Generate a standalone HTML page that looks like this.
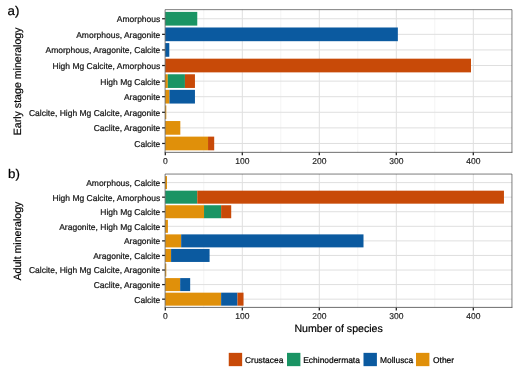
<!DOCTYPE html>
<html lang="en"><head><meta charset="utf-8"><title>Mineralogy chart</title>
<style>html,body{margin:0;padding:0;background:#fff}body{width:520px;height:374px;overflow:hidden}svg{display:block;will-change:transform;text-rendering:geometricPrecision}text{stroke-linejoin:round;font-family:"Liberation Sans",Arial,Helvetica,sans-serif}</style></head><body>
<svg width="520" height="374" viewBox="0 0 520 374">
<rect width="520" height="374" fill="#fff"/>
<g>
<line x1="203.80" x2="203.80" y1="9.65" y2="152.15" stroke="#E9E9E9" stroke-width="0.55"/>
<line x1="280.80" x2="280.80" y1="9.65" y2="152.15" stroke="#E9E9E9" stroke-width="0.55"/>
<line x1="357.80" x2="357.80" y1="9.65" y2="152.15" stroke="#E9E9E9" stroke-width="0.55"/>
<line x1="434.80" x2="434.80" y1="9.65" y2="152.15" stroke="#E9E9E9" stroke-width="0.55"/>
<line x1="242.30" x2="242.30" y1="9.65" y2="152.15" stroke="#DFDFDF" stroke-width="1"/>
<line x1="319.30" x2="319.30" y1="9.65" y2="152.15" stroke="#DFDFDF" stroke-width="1"/>
<line x1="396.30" x2="396.30" y1="9.65" y2="152.15" stroke="#DFDFDF" stroke-width="1"/>
<line x1="473.30" x2="473.30" y1="9.65" y2="152.15" stroke="#DFDFDF" stroke-width="1"/>
<line x1="165.3" x2="511.95" y1="18.75" y2="18.75" stroke="#DFDFDF" stroke-width="1"/>
<line x1="165.3" x2="511.95" y1="34.34" y2="34.34" stroke="#DFDFDF" stroke-width="1"/>
<line x1="165.3" x2="511.95" y1="49.93" y2="49.93" stroke="#DFDFDF" stroke-width="1"/>
<line x1="165.3" x2="511.95" y1="65.52" y2="65.52" stroke="#DFDFDF" stroke-width="1"/>
<line x1="165.3" x2="511.95" y1="81.11" y2="81.11" stroke="#DFDFDF" stroke-width="1"/>
<line x1="165.3" x2="511.95" y1="96.70" y2="96.70" stroke="#DFDFDF" stroke-width="1"/>
<line x1="165.3" x2="511.95" y1="112.29" y2="112.29" stroke="#DFDFDF" stroke-width="1"/>
<line x1="165.3" x2="511.95" y1="127.88" y2="127.88" stroke="#DFDFDF" stroke-width="1"/>
<line x1="165.3" x2="511.95" y1="143.47" y2="143.47" stroke="#DFDFDF" stroke-width="1"/>
<rect x="165.30" y="11.90" width="31.96" height="13.7" fill="#1A9464"/>
<rect x="165.30" y="27.49" width="232.54" height="13.7" fill="#0B5AA0"/>
<rect x="165.30" y="43.08" width="4.00" height="13.7" fill="#0B5AA0"/>
<rect x="165.30" y="58.67" width="305.69" height="13.7" fill="#C84A08"/>
<rect x="165.30" y="74.26" width="2.54" height="13.7" fill="#E0900A"/>
<rect x="167.84" y="74.26" width="17.09" height="13.7" fill="#1A9464"/>
<rect x="184.94" y="74.26" width="10.01" height="13.7" fill="#C84A08"/>
<rect x="165.30" y="89.85" width="4.16" height="13.7" fill="#E0900A"/>
<rect x="169.46" y="89.85" width="25.49" height="13.7" fill="#0B5AA0"/>
<rect x="165.30" y="105.44" width="1.00" height="13.7" fill="#E0900A"/>
<rect x="165.30" y="121.03" width="15.02" height="13.7" fill="#E0900A"/>
<rect x="165.30" y="136.62" width="42.73" height="13.7" fill="#E0900A"/>
<rect x="208.04" y="136.62" width="6.16" height="13.7" fill="#C84A08"/>
<path d="M165.1 152.35 V9.65 H511.95 V152.35" fill="none" stroke="#2e2e2e" stroke-width="1" stroke-opacity="0.62"/>
<line x1="164.6" x2="512.45" y1="152.35" y2="152.35" stroke="#2e2e2e" stroke-width="0.9" stroke-opacity="0.78"/>
<line x1="162.10" x2="164.90" y1="18.75" y2="18.75" stroke="#1c1c1c" stroke-width="1.25"/>
<text x="160.30" y="22.20" font-size="8.5" text-anchor="end" fill="#161616" stroke="#161616" stroke-width="0.22">Amorphous</text>
<line x1="162.10" x2="164.90" y1="34.34" y2="34.34" stroke="#1c1c1c" stroke-width="1.25"/>
<text x="160.30" y="37.79" font-size="8.5" text-anchor="end" fill="#161616" stroke="#161616" stroke-width="0.22">Amorphous, Aragonite</text>
<line x1="162.10" x2="164.90" y1="49.93" y2="49.93" stroke="#1c1c1c" stroke-width="1.25"/>
<text x="160.30" y="53.38" font-size="8.5" text-anchor="end" fill="#161616" stroke="#161616" stroke-width="0.22">Amorphous, Aragonite, Calcite</text>
<line x1="162.10" x2="164.90" y1="65.52" y2="65.52" stroke="#1c1c1c" stroke-width="1.25"/>
<text x="160.30" y="68.97" font-size="8.5" text-anchor="end" fill="#161616" stroke="#161616" stroke-width="0.22">High Mg Calcite, Amorphous</text>
<line x1="162.10" x2="164.90" y1="81.11" y2="81.11" stroke="#1c1c1c" stroke-width="1.25"/>
<text x="160.30" y="84.56" font-size="8.5" text-anchor="end" fill="#161616" stroke="#161616" stroke-width="0.22">High Mg Calcite</text>
<line x1="162.10" x2="164.90" y1="96.70" y2="96.70" stroke="#1c1c1c" stroke-width="1.25"/>
<text x="160.30" y="100.15" font-size="8.5" text-anchor="end" fill="#161616" stroke="#161616" stroke-width="0.22">Aragonite</text>
<line x1="162.10" x2="164.90" y1="112.29" y2="112.29" stroke="#1c1c1c" stroke-width="1.25"/>
<text x="160.30" y="115.74" font-size="8.5" text-anchor="end" fill="#161616" stroke="#161616" stroke-width="0.22">Calcite, High Mg Calcite, Aragonite</text>
<line x1="162.10" x2="164.90" y1="127.88" y2="127.88" stroke="#1c1c1c" stroke-width="1.25"/>
<text x="160.30" y="131.33" font-size="8.5" text-anchor="end" fill="#161616" stroke="#161616" stroke-width="0.22">Caclite, Aragonite</text>
<line x1="162.10" x2="164.90" y1="143.47" y2="143.47" stroke="#1c1c1c" stroke-width="1.25"/>
<text x="160.30" y="146.92" font-size="8.5" text-anchor="end" fill="#161616" stroke="#161616" stroke-width="0.22">Calcite</text>
<line x1="165.30" x2="165.30" y1="152.55" y2="155.35" stroke="#1c1c1c" stroke-width="1.25"/>
<text x="165.35" y="163.90" font-size="8.5" text-anchor="middle" fill="#262626" stroke="#262626" stroke-width="0.18">0</text>
<line x1="242.30" x2="242.30" y1="152.55" y2="155.35" stroke="#1c1c1c" stroke-width="1.25"/>
<text x="242.35" y="163.90" font-size="8.5" text-anchor="middle" fill="#262626" stroke="#262626" stroke-width="0.18">100</text>
<line x1="319.30" x2="319.30" y1="152.55" y2="155.35" stroke="#1c1c1c" stroke-width="1.25"/>
<text x="319.35" y="163.90" font-size="8.5" text-anchor="middle" fill="#262626" stroke="#262626" stroke-width="0.18">200</text>
<line x1="396.30" x2="396.30" y1="152.55" y2="155.35" stroke="#1c1c1c" stroke-width="1.25"/>
<text x="396.35" y="163.90" font-size="8.5" text-anchor="middle" fill="#262626" stroke="#262626" stroke-width="0.18">300</text>
<line x1="473.30" x2="473.30" y1="152.55" y2="155.35" stroke="#1c1c1c" stroke-width="1.25"/>
<text x="473.35" y="163.90" font-size="8.5" text-anchor="middle" fill="#262626" stroke="#262626" stroke-width="0.18">400</text>
<text transform="translate(21.4,81.35) rotate(-90)" font-size="10.6" text-anchor="middle" fill="#000" stroke="#000" stroke-width="0.2">Early stage mineralogy</text>
<text transform="translate(7.55,14.6) scale(1.06,1)" font-size="12.6" fill="#000" stroke="#000" stroke-width="0.2">a)</text>
</g>
<g>
<line x1="203.80" x2="203.80" y1="174.05" y2="307.3" stroke="#E9E9E9" stroke-width="0.55"/>
<line x1="280.80" x2="280.80" y1="174.05" y2="307.3" stroke="#E9E9E9" stroke-width="0.55"/>
<line x1="357.80" x2="357.80" y1="174.05" y2="307.3" stroke="#E9E9E9" stroke-width="0.55"/>
<line x1="434.80" x2="434.80" y1="174.05" y2="307.3" stroke="#E9E9E9" stroke-width="0.55"/>
<line x1="242.30" x2="242.30" y1="174.05" y2="307.3" stroke="#DFDFDF" stroke-width="1"/>
<line x1="319.30" x2="319.30" y1="174.05" y2="307.3" stroke="#DFDFDF" stroke-width="1"/>
<line x1="396.30" x2="396.30" y1="174.05" y2="307.3" stroke="#DFDFDF" stroke-width="1"/>
<line x1="473.30" x2="473.30" y1="174.05" y2="307.3" stroke="#DFDFDF" stroke-width="1"/>
<line x1="165.3" x2="511.95" y1="182.60" y2="182.60" stroke="#DFDFDF" stroke-width="1"/>
<line x1="165.3" x2="511.95" y1="197.17" y2="197.17" stroke="#DFDFDF" stroke-width="1"/>
<line x1="165.3" x2="511.95" y1="211.74" y2="211.74" stroke="#DFDFDF" stroke-width="1"/>
<line x1="165.3" x2="511.95" y1="226.31" y2="226.31" stroke="#DFDFDF" stroke-width="1"/>
<line x1="165.3" x2="511.95" y1="240.88" y2="240.88" stroke="#DFDFDF" stroke-width="1"/>
<line x1="165.3" x2="511.95" y1="255.45" y2="255.45" stroke="#DFDFDF" stroke-width="1"/>
<line x1="165.3" x2="511.95" y1="270.02" y2="270.02" stroke="#DFDFDF" stroke-width="1"/>
<line x1="165.3" x2="511.95" y1="284.59" y2="284.59" stroke="#DFDFDF" stroke-width="1"/>
<line x1="165.3" x2="511.95" y1="299.16" y2="299.16" stroke="#DFDFDF" stroke-width="1"/>
<rect x="165.30" y="176.10" width="1.69" height="13.0" fill="#E0900A"/>
<rect x="165.30" y="190.67" width="31.96" height="13.0" fill="#1A9464"/>
<rect x="197.26" y="190.67" width="306.69" height="13.0" fill="#C84A08"/>
<rect x="165.30" y="205.24" width="38.73" height="13.0" fill="#E0900A"/>
<rect x="204.03" y="205.24" width="17.09" height="13.0" fill="#1A9464"/>
<rect x="221.12" y="205.24" width="10.09" height="13.0" fill="#C84A08"/>
<rect x="165.30" y="219.81" width="2.62" height="13.0" fill="#E0900A"/>
<rect x="165.30" y="234.38" width="15.86" height="13.0" fill="#E0900A"/>
<rect x="181.16" y="234.38" width="182.34" height="13.0" fill="#0B5AA0"/>
<rect x="165.30" y="248.95" width="5.78" height="13.0" fill="#E0900A"/>
<rect x="171.08" y="248.95" width="38.50" height="13.0" fill="#0B5AA0"/>
<rect x="165.30" y="263.52" width="1.00" height="13.0" fill="#E0900A"/>
<rect x="165.30" y="278.09" width="14.86" height="13.0" fill="#E0900A"/>
<rect x="180.16" y="278.09" width="10.01" height="13.0" fill="#0B5AA0"/>
<rect x="165.30" y="292.66" width="55.83" height="13.0" fill="#E0900A"/>
<rect x="221.12" y="292.66" width="16.32" height="13.0" fill="#0B5AA0"/>
<rect x="237.45" y="292.66" width="6.08" height="13.0" fill="#C84A08"/>
<path d="M165.1 307.4 V174.05 H511.95 V307.4" fill="none" stroke="#2e2e2e" stroke-width="1" stroke-opacity="0.62"/>
<line x1="164.6" x2="512.45" y1="307.4" y2="307.4" stroke="#2e2e2e" stroke-width="0.9" stroke-opacity="0.78"/>
<line x1="162.10" x2="164.90" y1="182.60" y2="182.60" stroke="#1c1c1c" stroke-width="1.25"/>
<text x="160.30" y="186.05" font-size="8.5" text-anchor="end" fill="#161616" stroke="#161616" stroke-width="0.22">Amorphous, Calcite</text>
<line x1="162.10" x2="164.90" y1="197.17" y2="197.17" stroke="#1c1c1c" stroke-width="1.25"/>
<text x="160.30" y="200.62" font-size="8.5" text-anchor="end" fill="#161616" stroke="#161616" stroke-width="0.22">High Mg Calcite, Amorphous</text>
<line x1="162.10" x2="164.90" y1="211.74" y2="211.74" stroke="#1c1c1c" stroke-width="1.25"/>
<text x="160.30" y="215.19" font-size="8.5" text-anchor="end" fill="#161616" stroke="#161616" stroke-width="0.22">High Mg Calcite</text>
<line x1="162.10" x2="164.90" y1="226.31" y2="226.31" stroke="#1c1c1c" stroke-width="1.25"/>
<text x="160.30" y="229.76" font-size="8.5" text-anchor="end" fill="#161616" stroke="#161616" stroke-width="0.22">Aragonite, High Mg Calcite</text>
<line x1="162.10" x2="164.90" y1="240.88" y2="240.88" stroke="#1c1c1c" stroke-width="1.25"/>
<text x="160.30" y="244.33" font-size="8.5" text-anchor="end" fill="#161616" stroke="#161616" stroke-width="0.22">Aragonite</text>
<line x1="162.10" x2="164.90" y1="255.45" y2="255.45" stroke="#1c1c1c" stroke-width="1.25"/>
<text x="160.30" y="258.90" font-size="8.5" text-anchor="end" fill="#161616" stroke="#161616" stroke-width="0.22">Aragonite, Calcite</text>
<line x1="162.10" x2="164.90" y1="270.02" y2="270.02" stroke="#1c1c1c" stroke-width="1.25"/>
<text x="160.30" y="273.47" font-size="8.5" text-anchor="end" fill="#161616" stroke="#161616" stroke-width="0.22">Calcite, High Mg Calcite, Aragonite</text>
<line x1="162.10" x2="164.90" y1="284.59" y2="284.59" stroke="#1c1c1c" stroke-width="1.25"/>
<text x="160.30" y="288.04" font-size="8.5" text-anchor="end" fill="#161616" stroke="#161616" stroke-width="0.22">Caclite, Aragonite</text>
<line x1="162.10" x2="164.90" y1="299.16" y2="299.16" stroke="#1c1c1c" stroke-width="1.25"/>
<text x="160.30" y="302.61" font-size="8.5" text-anchor="end" fill="#161616" stroke="#161616" stroke-width="0.22">Calcite</text>
<line x1="165.30" x2="165.30" y1="307.70" y2="310.50" stroke="#1c1c1c" stroke-width="1.25"/>
<text x="165.35" y="318.60" font-size="8.5" text-anchor="middle" fill="#262626" stroke="#262626" stroke-width="0.18">0</text>
<line x1="242.30" x2="242.30" y1="307.70" y2="310.50" stroke="#1c1c1c" stroke-width="1.25"/>
<text x="242.35" y="318.60" font-size="8.5" text-anchor="middle" fill="#262626" stroke="#262626" stroke-width="0.18">100</text>
<line x1="319.30" x2="319.30" y1="307.70" y2="310.50" stroke="#1c1c1c" stroke-width="1.25"/>
<text x="319.35" y="318.60" font-size="8.5" text-anchor="middle" fill="#262626" stroke="#262626" stroke-width="0.18">200</text>
<line x1="396.30" x2="396.30" y1="307.70" y2="310.50" stroke="#1c1c1c" stroke-width="1.25"/>
<text x="396.35" y="318.60" font-size="8.5" text-anchor="middle" fill="#262626" stroke="#262626" stroke-width="0.18">300</text>
<line x1="473.30" x2="473.30" y1="307.70" y2="310.50" stroke="#1c1c1c" stroke-width="1.25"/>
<text x="473.35" y="318.60" font-size="8.5" text-anchor="middle" fill="#262626" stroke="#262626" stroke-width="0.18">400</text>
<text transform="translate(21.4,241.12) rotate(-90)" font-size="10.6" text-anchor="middle" fill="#000" stroke="#000" stroke-width="0.2">Adult mineralogy</text>
<text transform="translate(8.0,178.35) scale(1.06,1)" font-size="12.6" fill="#000" stroke="#000" stroke-width="0.2">b)</text>
</g>
<text x="338.62" y="331.7" font-size="10.6" text-anchor="middle" fill="#000" stroke="#000" stroke-width="0.2">Number of species</text>
<rect x="228.75" y="352.85" width="13.4" height="13.3" fill="#C84A08"/>
<text x="245.0" y="362.7" font-size="8.43" fill="#000" stroke="#000" stroke-width="0.2">Crustacea</text>
<rect x="287.0" y="352.85" width="13.4" height="13.3" fill="#1A9464"/>
<text x="303.25" y="362.7" font-size="8.43" fill="#000" stroke="#000" stroke-width="0.2">Echinodermata</text>
<rect x="363.5" y="352.85" width="13.4" height="13.3" fill="#0B5AA0"/>
<text x="380.0" y="362.7" font-size="8.43" fill="#000" stroke="#000" stroke-width="0.2">Mollusca</text>
<rect x="416.0" y="352.85" width="13.4" height="13.3" fill="#E0900A"/>
<text x="433.0" y="362.7" font-size="8.43" fill="#000" stroke="#000" stroke-width="0.2">Other</text>
</svg></body></html>
